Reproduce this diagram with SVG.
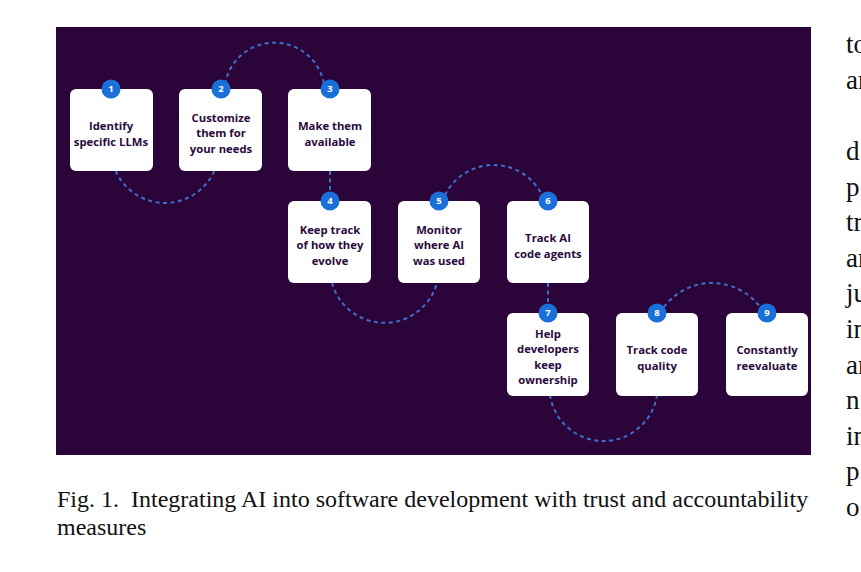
<svg xmlns="http://www.w3.org/2000/svg" width="861" height="572" viewBox="0 0 861 572">
<style>
.card{fill:#ffffff}
.lbl{font-family:"Open Sans","Noto Sans",sans-serif;font-weight:700;font-size:11.3px;fill:#2b0a3d;text-anchor:middle}
.badge{fill:#1b6fd9}
.num{font-family:"Open Sans","Noto Sans",sans-serif;font-weight:700;font-size:9.5px;fill:#ffffff;text-anchor:middle}
.dash{fill:none;stroke:#3f6fcb;stroke-width:2;stroke-dasharray:4 3.5}
.body{font-family:"Liberation Serif","Times New Roman",serif;font-size:27px;fill:#111111}
.cap{font-family:"Liberation Serif","Times New Roman",serif;font-size:24px;fill:#111111}
</style>
<rect x="0" y="0" width="861" height="572" fill="#ffffff"/>
<rect x="56" y="27" width="755" height="428" fill="#2b0539"/>
<g id="connectors">
<path class="dash" d="M115.7 171 A54 54 0 0 0 214.3 171"/>
<path class="dash" d="M225 84 A50.3 50.3 0 0 1 324 84"/>
<path class="dash" d="M330 171 L330 193"/>
<path class="dash" d="M332 283 A54.5 54.5 0 0 0 437 283"/>
<path class="dash" d="M445 195 A54.2 54.2 0 0 1 542 195"/>
<path class="dash" d="M548 283 L548 305"/>
<path class="dash" d="M550 395 A54.1 54.1 0 0 0 657 395"/>
<path class="dash" d="M664 307 A60 60 0 0 1 760 307"/>
</g>
<g id="node1">
<rect class="card" x="70" y="89" width="83" height="82" rx="6"/>
<circle class="badge" cx="111" cy="89" r="9.5"/><text class="num" x="111" y="92.4">1</text>
<text class="lbl" x="111" y="130">Identify</text>
<text class="lbl" x="111" y="145.5">specific LLMs</text>
</g>
<g id="node2">
<rect class="card" x="179" y="89" width="83" height="82" rx="6"/>
<circle class="badge" cx="221" cy="89" r="9.5"/><text class="num" x="221" y="92.4">2</text>
<text class="lbl" x="221" y="121.5">Customize</text>
<text class="lbl" x="221" y="137">them for</text>
<text class="lbl" x="221" y="152.5">your needs</text>
</g>
<g id="node3">
<rect class="card" x="288" y="89" width="83" height="82" rx="6"/>
<circle class="badge" cx="330" cy="89" r="9.5"/><text class="num" x="330" y="92.4">3</text>
<text class="lbl" x="330" y="130">Make them</text>
<text class="lbl" x="330" y="145.5">available</text>
</g>
<g id="node4">
<rect class="card" x="288" y="201" width="83" height="82" rx="6"/>
<circle class="badge" cx="330" cy="201" r="9.5"/><text class="num" x="330" y="204.4">4</text>
<text class="lbl" x="330" y="233.5">Keep track</text>
<text class="lbl" x="330" y="249">of how they</text>
<text class="lbl" x="330" y="264.5">evolve</text>
</g>
<g id="node5">
<rect class="card" x="398" y="201" width="82" height="82" rx="6"/>
<circle class="badge" cx="439" cy="201" r="9.5"/><text class="num" x="439" y="204.4">5</text>
<text class="lbl" x="439" y="233.5">Monitor</text>
<text class="lbl" x="439" y="249">where AI</text>
<text class="lbl" x="439" y="264.5">was used</text>
</g>
<g id="node6">
<rect class="card" x="507" y="201" width="82" height="82" rx="6"/>
<circle class="badge" cx="548" cy="201" r="9.5"/><text class="num" x="548" y="204.4">6</text>
<text class="lbl" x="548" y="242">Track AI</text>
<text class="lbl" x="548" y="257.5">code agents</text>
</g>
<g id="node7">
<rect class="card" x="507" y="313" width="82" height="83" rx="6"/>
<circle class="badge" cx="548" cy="313" r="9.5"/><text class="num" x="548" y="316.4">7</text>
<text class="lbl" x="548" y="337.5">Help</text>
<text class="lbl" x="548" y="353">developers</text>
<text class="lbl" x="548" y="368.5">keep</text>
<text class="lbl" x="548" y="384">ownership</text>
</g>
<g id="node8">
<rect class="card" x="616" y="313" width="82" height="83" rx="6"/>
<circle class="badge" cx="657" cy="313" r="9.5"/><text class="num" x="657" y="316.4">8</text>
<text class="lbl" x="657" y="354">Track code</text>
<text class="lbl" x="657" y="369.5">quality</text>
</g>
<g id="node9">
<rect class="card" x="726" y="313" width="82" height="83" rx="6"/>
<circle class="badge" cx="767" cy="313" r="9.5"/><text class="num" x="767" y="316.4">9</text>
<text class="lbl" x="767" y="354">Constantly</text>
<text class="lbl" x="767" y="369.5">reevaluate</text>
</g>
<g id="caption">
<text class="cap" x="57" y="507">Fig. 1. &#160;Integrating AI into software development with trust and accountability</text>
<text class="cap" x="57" y="535">measures</text>
</g>
<g id="column-text">
<text class="body" x="846" y="53">to</text>
<text class="body" x="846" y="88.5">ar</text>
<text class="body" x="846" y="160">d</text>
<text class="body" x="846" y="195.6">p</text>
<text class="body" x="846" y="231.2">tr</text>
<text class="body" x="846" y="266.8">ar</text>
<text class="body" x="846" y="302.4">ju</text>
<text class="body" x="846" y="338">in</text>
<text class="body" x="846" y="373.6">ar</text>
<text class="body" x="846" y="409.2">n</text>
<text class="body" x="846" y="444.8">in</text>
<text class="body" x="846" y="480.4">p</text>
<text class="body" x="846" y="516">o</text>
</g>
</svg>
